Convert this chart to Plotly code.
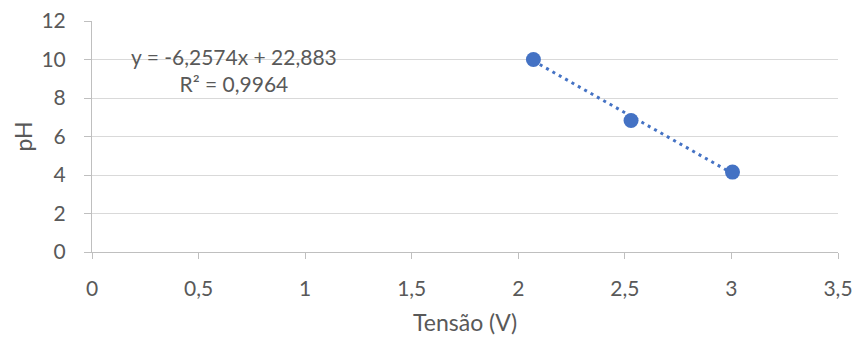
import plotly.graph_objects as go

# Measured points: voltage (V) vs pH
tensao = [2.071, 2.529, 3.005]
ph = [10.0, 6.83, 4.15]

# Linear trendline coefficients
slope = -6.2574
intercept = 22.883
r2 = 0.9964

x_ticks = [0, 0.5, 1, 1.5, 2, 2.5, 3, 3.5]
x_tick_text = ["0", "0,5", "1", "1,5", "2", "2,5", "3", "3,5"]
y_ticks = [0, 2, 4, 6, 8, 10, 12]

blue = "#4472C4"
gray_text = "#595959"
font_family = "Lato, 'Open Sans', sans-serif"

trend_x = [min(tensao), max(tensao)]
trend_y = [slope * v + intercept for v in trend_x]

fig = go.Figure()
fig.add_trace(go.Scatter(
    x=trend_x, y=trend_y, mode="lines",
    line=dict(color=blue, width=3, dash="3px,4.3px"),
    hoverinfo="skip", showlegend=False,
))
fig.add_trace(go.Scatter(
    x=tensao, y=ph, mode="markers",
    marker=dict(color=blue, size=15),
    showlegend=False,
))

eq_text = (f"y = {slope:.4f}x + {intercept:.3f}".replace(".", ",")
           + "<br>" + f"R² = {r2:.4f}".replace(".", ","))
fig.add_annotation(
    x=0.666, y=9.45, xref="x", yref="y", text=eq_text, showarrow=False,
    align="center", font=dict(family=font_family, size=21, color=gray_text),
)

# Axis titles placed in paper coordinates
fig.add_annotation(
    x=0.5, y=0, xref="paper", yref="paper", yanchor="middle",
    yshift=-70, text="Tensão (V)", showarrow=False,
    font=dict(family=font_family, size=23, color=gray_text),
)
fig.add_annotation(
    x=0, y=0.5, xref="paper", yref="paper", xanchor="center",
    xshift=-70, text="pH", textangle=-90, showarrow=False,
    font=dict(family=font_family, size=23, color=gray_text),
)

fig.update_layout(
    width=858, height=338,
    margin=dict(l=92, r=20, t=21, b=86),
    paper_bgcolor="white", plot_bgcolor="white",
    font=dict(family=font_family, size=21, color=gray_text),
)
fig.update_xaxes(
    range=[0, 3.5], tickvals=x_ticks, ticktext=x_tick_text,
    showgrid=False, zeroline=False, automargin=False,
    showline=True, linecolor="#bfbfbf", linewidth=1,
    ticks="outside", ticklen=6, tickcolor="#bfbfbf",
    ticklabelstandoff=12,
)
fig.update_yaxes(
    range=[0, 12], tickvals=y_ticks,
    showgrid=True, gridcolor="#d9d9d9", gridwidth=1, zeroline=False,
    automargin=False,
    showline=True, linecolor="#bfbfbf", linewidth=1,
    ticks="outside", ticklen=7, tickcolor="#bfbfbf",
    ticklabelstandoff=14,
)

fig.write_html("out.html")
